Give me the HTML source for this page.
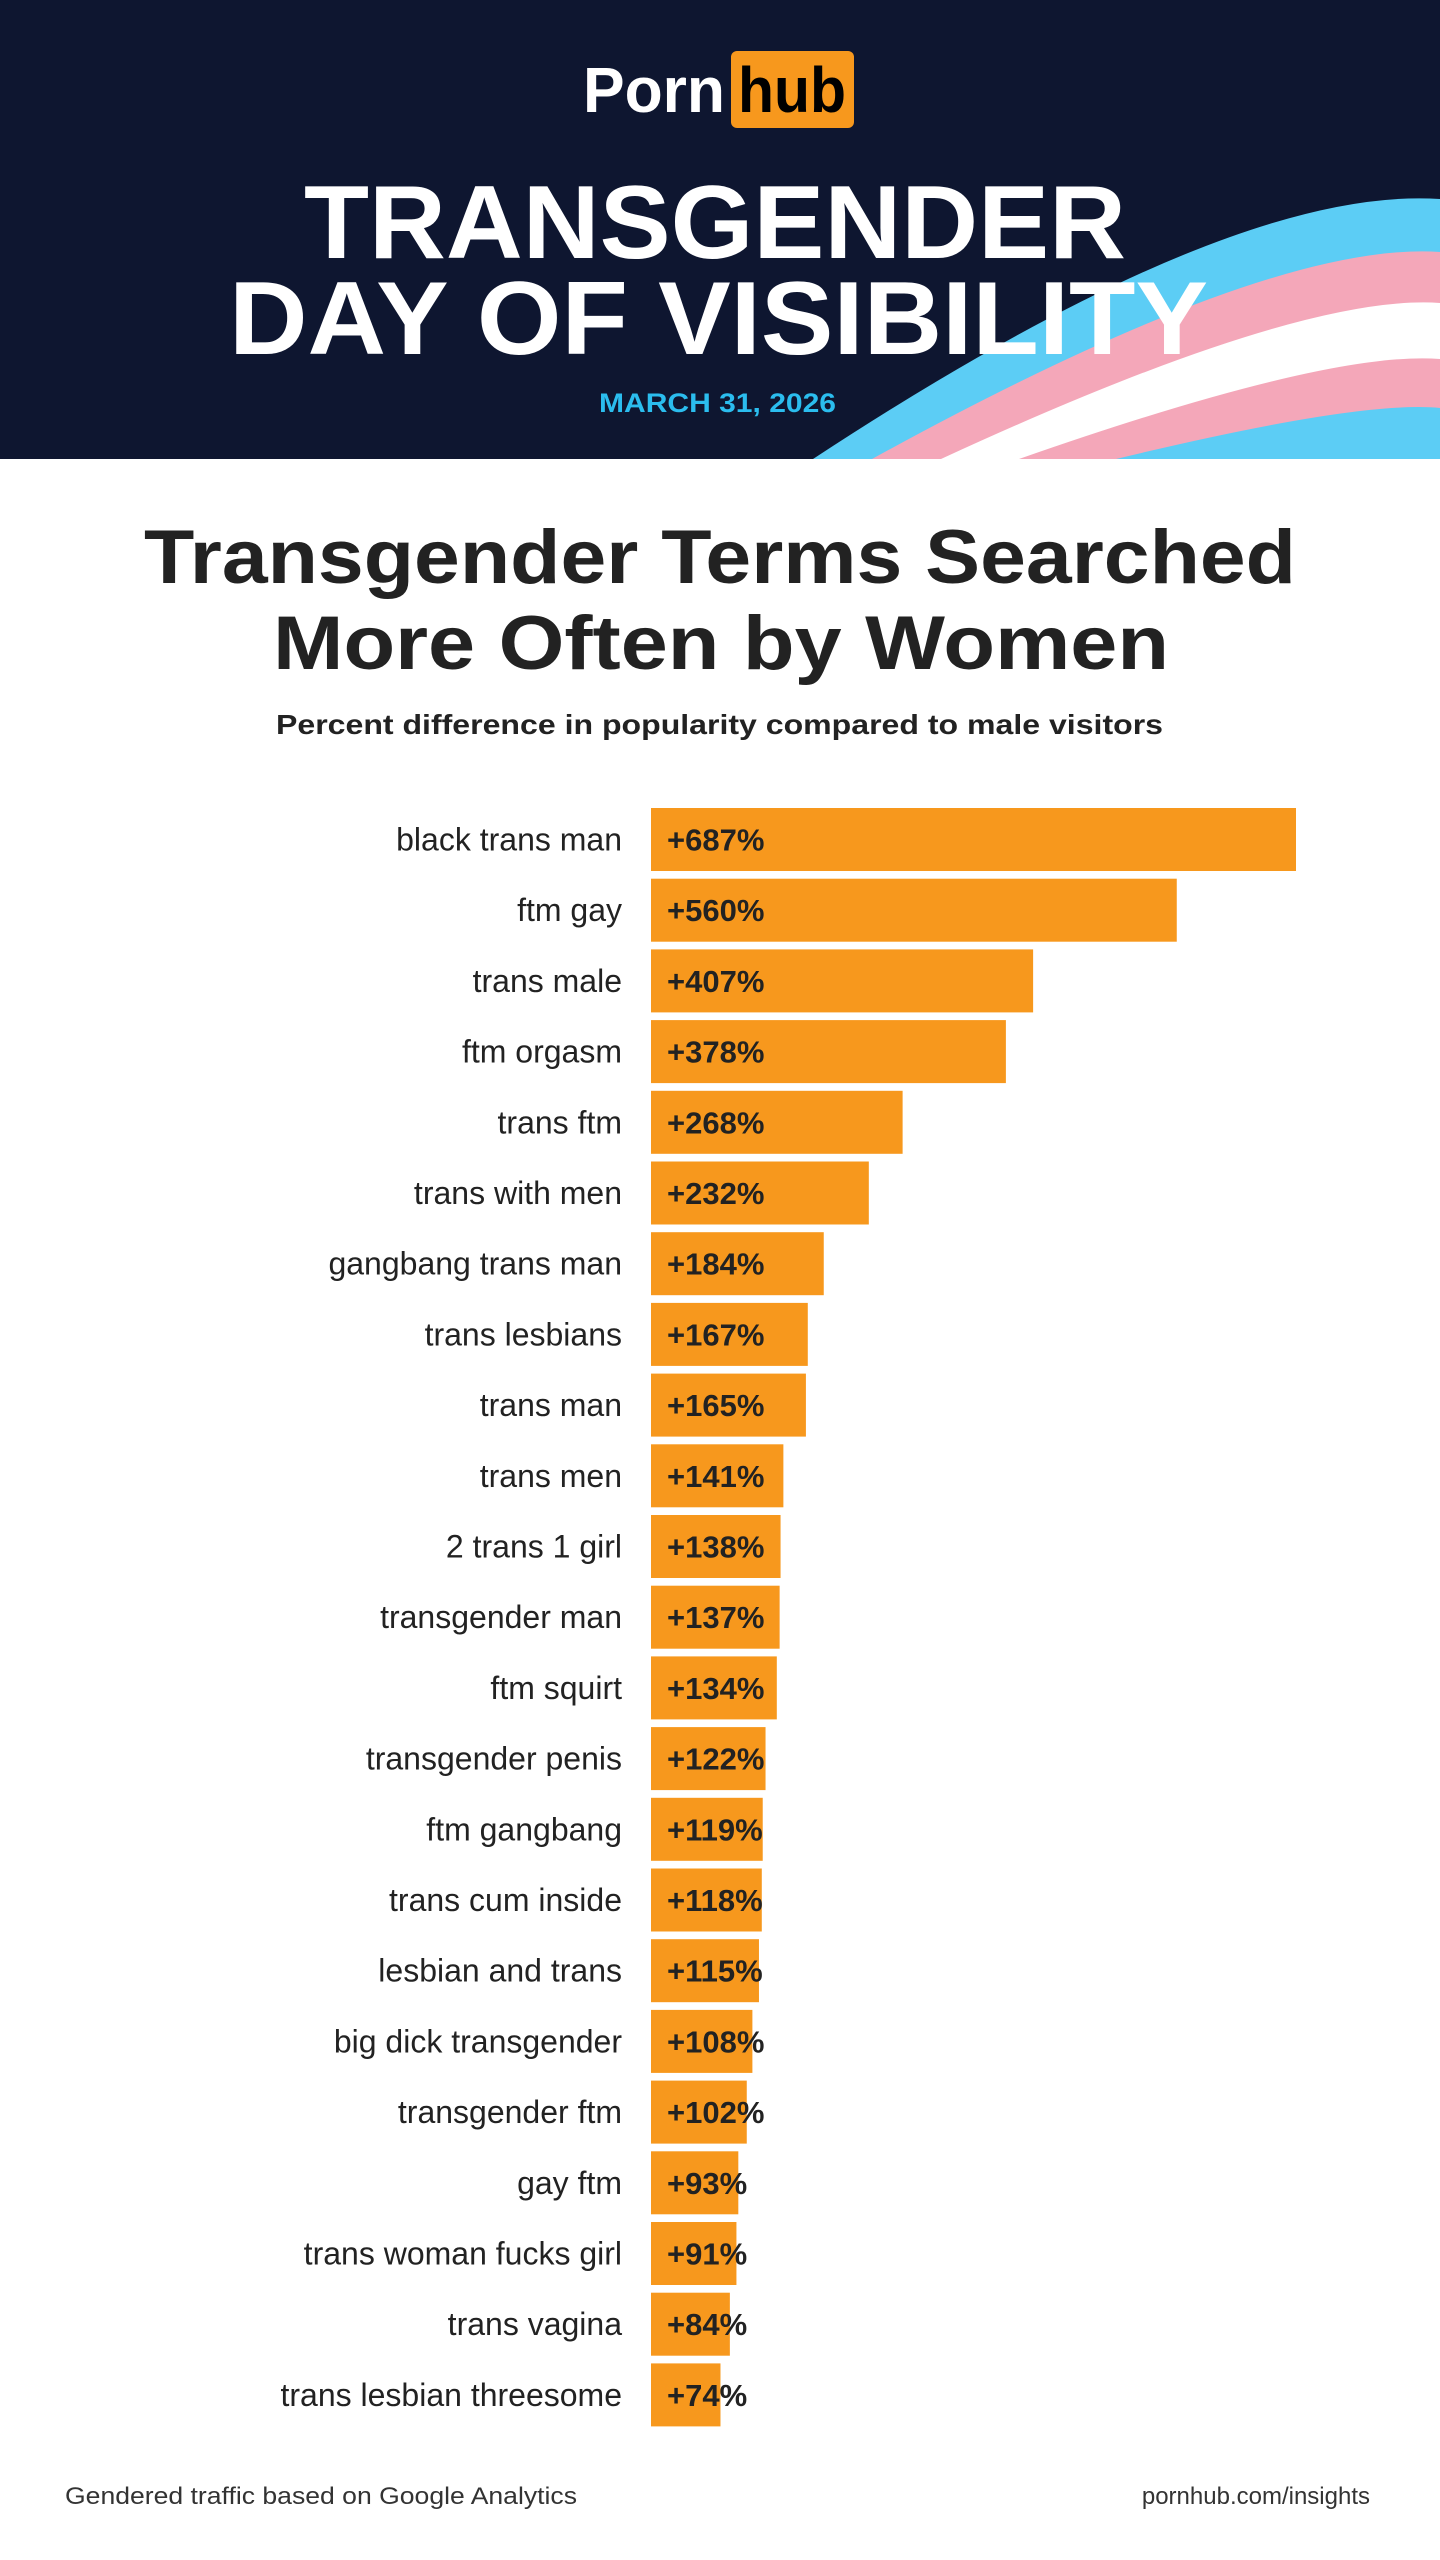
<!DOCTYPE html>
<html><head><meta charset="utf-8"><style>
html,body{margin:0;padding:0;background:#fff;}
svg{display:block;}
text{font-family:"Liberation Sans",sans-serif;}
</style></head><body>
<svg id="chart" width="1440" height="2560" viewBox="0 0 1440 2560" xmlns="http://www.w3.org/2000/svg">
<rect x="0" y="0" width="1440" height="459" fill="#0e1630"/>
<g>
<path d="M813,459 Q1230,185 1440,199 L1440,459 Z" fill="#5ccdf5"/>
<path d="M872,459 Q1270,240 1440,252 L1440,459 Z" fill="#f4a7b9"/>
<path d="M941,459 Q1300,293 1440,303 L1440,459 Z" fill="#ffffff"/>
<path d="M1019,459 Q1330,350 1440,359 L1440,459 Z" fill="#f4a7b9"/>
<path d="M1116,459 Q1360,400 1440,408 L1440,459 Z" fill="#5ccdf5"/>
</g>
<g>
<text x="583" y="112" font-size="64" font-weight="bold" fill="#fff" textLength="142" lengthAdjust="spacingAndGlyphs">Porn</text>
<rect x="731" y="51" width="123" height="77" rx="6" fill="#f7981d"/>
<text x="738" y="112" font-size="64" font-weight="bold" fill="#000" textLength="108" lengthAdjust="spacingAndGlyphs">hub</text>
</g>
<text x="304" y="258" font-size="104" font-weight="bold" fill="#fff" textLength="822" lengthAdjust="spacingAndGlyphs">TRANSGENDER</text>
<text x="229" y="354" font-size="104" font-weight="bold" fill="#fff" textLength="979" lengthAdjust="spacingAndGlyphs">DAY OF VISIBILITY</text>
<text x="599" y="412" font-size="27" font-weight="bold" fill="#2bbdee" textLength="237" lengthAdjust="spacingAndGlyphs">MARCH 31, 2026</text>
<text x="144" y="583" font-size="76" font-weight="bold" fill="#222" textLength="1152" lengthAdjust="spacingAndGlyphs">Transgender Terms Searched</text>
<text x="273" y="669" font-size="76" font-weight="bold" fill="#222" textLength="896" lengthAdjust="spacingAndGlyphs">More Often by Women</text>
<text x="276" y="734" font-size="28" font-weight="bold" fill="#222" textLength="887" lengthAdjust="spacingAndGlyphs">Percent difference in popularity compared to male visitors</text>
<g id="bars"></g>
<text x="65" y="2504" font-size="24" fill="#333" textLength="512" lengthAdjust="spacingAndGlyphs">Gendered traffic based on Google Analytics</text>
<text x="1370" y="2504" font-size="24" fill="#333" text-anchor="end">pornhub.com/insights</text>
</svg>
<script>
const categories = ["black trans man","ftm gay","trans male","ftm orgasm","trans ftm","trans with men","gangbang trans man","trans lesbians","trans man","trans men","2 trans 1 girl","transgender man","ftm squirt","transgender penis","ftm gangbang","trans cum inside","lesbian and trans","big dick transgender","transgender ftm","gay ftm","trans woman fucks girl","trans vagina","trans lesbian threesome"];
const values = [687,560,407,378,268,232,184,167,165,141,138,137,134,122,119,118,115,108,102,93,91,84,74];
const valueLabels = ["+687%","+560%","+407%","+378%","+268%","+232%","+184%","+167%","+165%","+141%","+138%","+137%","+134%","+122%","+119%","+118%","+115%","+108%","+102%","+93%","+91%","+84%","+74%"];

const NS = "http://www.w3.org/2000/svg";
const g = document.getElementById('bars');
const x0 = 651, xMaxPx = 645, maxV = 687;
const y0 = 808, step = 70.7, barH = 63;
function xScale(v){ return v / maxV * xMaxPx; }
function yScale(i){ return y0 + i * step; }
categories.forEach((c, i) => {
  const y = yScale(i);
  const r = document.createElementNS(NS, 'rect');
  
  
  r.setAttribute('x', x0); r.setAttribute('y', y);
  r.setAttribute('width', xScale(values[i])); r.setAttribute('height', barH);
  r.setAttribute('fill', '#f7981d');
  g.appendChild(r);
  const t = document.createElementNS(NS, 'text');
  
  
  t.setAttribute('x', 622); t.setAttribute('y', y + barH/2 + 11);
  t.setAttribute('text-anchor', 'end'); t.setAttribute('font-size', '32');
  t.setAttribute('fill', '#222');
  t.textContent = c;
  g.appendChild(t);
  const v = document.createElementNS(NS, 'text');
  
  
  v.setAttribute('x', x0 + 16); v.setAttribute('y', y + barH/2 + 11);
  v.setAttribute('font-size', '31'); v.setAttribute('font-weight', 'bold');
  v.setAttribute('fill', '#222');
  v.textContent = valueLabels[i];
  g.appendChild(v);
});
</script>
</body></html>
